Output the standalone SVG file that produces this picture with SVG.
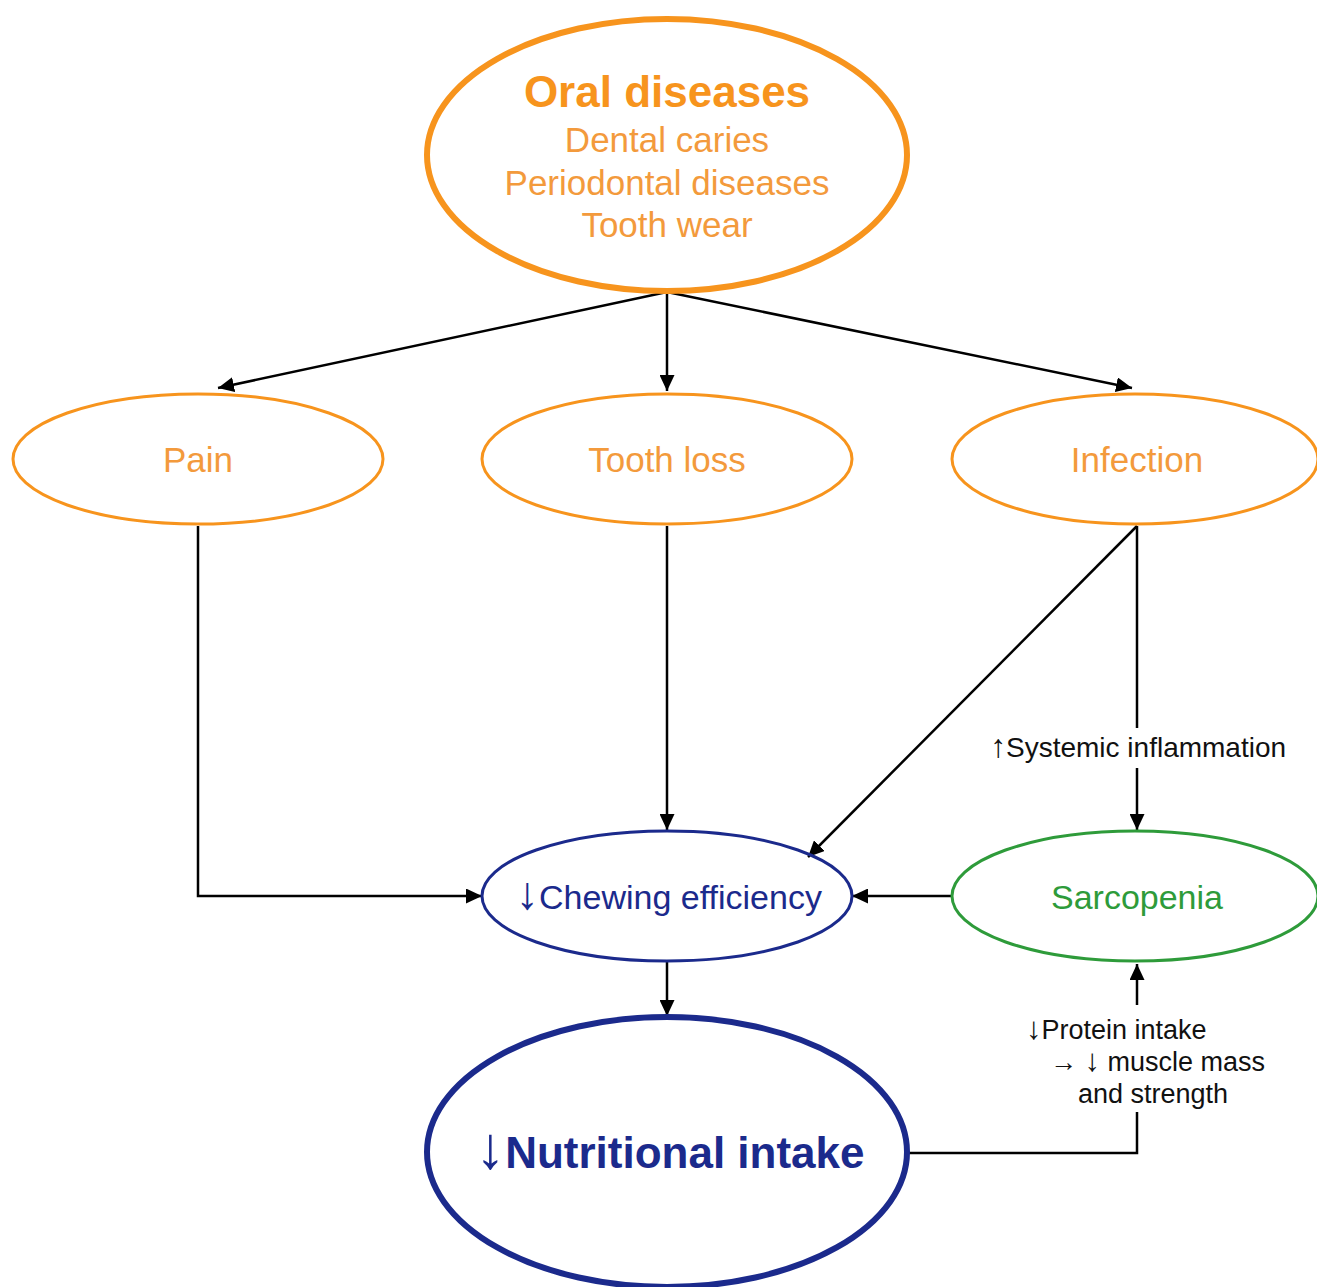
<svg xmlns="http://www.w3.org/2000/svg" width="1317" height="1287" viewBox="0 0 1317 1287">
<defs>
<marker id="ah" markerUnits="userSpaceOnUse" markerWidth="17" markerHeight="15" refX="16" refY="7.5" orient="auto">
<path d="M0,0 L16,7.5 L0,15 z" fill="#000"/>
</marker>
<style>
text{font-family:"Liberation Sans",Arial,sans-serif;text-anchor:middle}
.or{fill:none;stroke:#F7941D}
.ot{fill:#F39A3C;font-size:35px}
.nv{fill:none;stroke:#1B2A8C}
.gr{fill:none;stroke:#2E9B3A}
.lbl{fill:#111;font-size:27px}
.c{fill:none;stroke:#000;stroke-width:2.5}
.ar{font-size:1.35em}
.as{font-size:1.15em}
</style>
</defs>
<rect width="1317" height="1287" fill="#fff"/>
<g id="connectors">
<path class="c" d="M667,292 L218,388" marker-end="url(#ah)"/>
<path class="c" d="M667,292 V391" marker-end="url(#ah)"/>
<path class="c" d="M667,292 L1132,388" marker-end="url(#ah)"/>
<path class="c" d="M198,526 V896 H482" marker-end="url(#ah)"/>
<path class="c" d="M667,526 V830" marker-end="url(#ah)"/>
<path class="c" d="M1137,526 L808,857" marker-end="url(#ah)"/>
<path class="c" d="M1137,526 V728"/>
<path class="c" d="M1137,768 V830" marker-end="url(#ah)"/>
<path class="c" d="M951,896 H852" marker-end="url(#ah)"/>
<path class="c" d="M667,962 V1016" marker-end="url(#ah)"/>
<path class="c" d="M908,1153 H1137 V1112"/>
<path class="c" d="M1137,1005 V964" marker-end="url(#ah)"/>
<text class="lbl" x="1138" y="757" style="font-size:28px"><tspan class="as">↑</tspan>Systemic inflammation</text>
<text class="lbl" style="text-anchor:start" x="1026" y="1039"><tspan class="as">↓</tspan>Protein intake</text>
<text class="lbl" style="text-anchor:start" x="1050" y="1071">→ <tspan class="as">↓</tspan> muscle mass</text>
<text class="lbl" x="1153" y="1103">and strength</text>
</g>
<g id="oral-diseases">
<ellipse class="or" cx="667" cy="155" rx="240" ry="136" stroke-width="6"/>
<text x="667" y="107" style="fill:#F7941D;font-size:44px;font-weight:bold">Oral diseases</text>
<text class="ot" x="667" y="152">Dental caries</text>
<text class="ot" x="667" y="195">Periodontal diseases</text>
<text class="ot" x="667" y="237">Tooth wear</text>
</g>
<g id="pain">
<ellipse class="or" cx="198" cy="459" rx="185" ry="65" stroke-width="3"/>
<text class="ot" x="198" y="472">Pain</text>
</g>
<g id="tooth-loss">
<ellipse class="or" cx="667" cy="459" rx="185" ry="65" stroke-width="3"/>
<text class="ot" x="667" y="472">Tooth loss</text>
</g>
<g id="infection">
<ellipse class="or" cx="1135" cy="459" rx="183" ry="65" stroke-width="3"/>
<text class="ot" x="1137" y="472">Infection</text>
</g>
<g id="chewing-efficiency">
<ellipse class="nv" cx="667" cy="896" rx="185" ry="65" stroke-width="3"/>
<text x="669" y="909" style="fill:#1B2A8C;font-size:34px"><tspan class="ar">↓</tspan>Chewing efficiency</text>
</g>
<g id="sarcopenia">
<ellipse class="gr" cx="1135" cy="896" rx="183" ry="65" stroke-width="3"/>
<text x="1137" y="909" style="fill:#2E9B3A;font-size:34px">Sarcopenia</text>
</g>
<g id="nutritional-intake">
<ellipse class="nv" cx="667" cy="1152" rx="240" ry="135" stroke-width="6"/>
<text x="670" y="1168" style="fill:#1B2A8C;font-size:44px;font-weight:bold"><tspan class="ar">↓</tspan>Nutritional intake</text>
</g>
</svg>
